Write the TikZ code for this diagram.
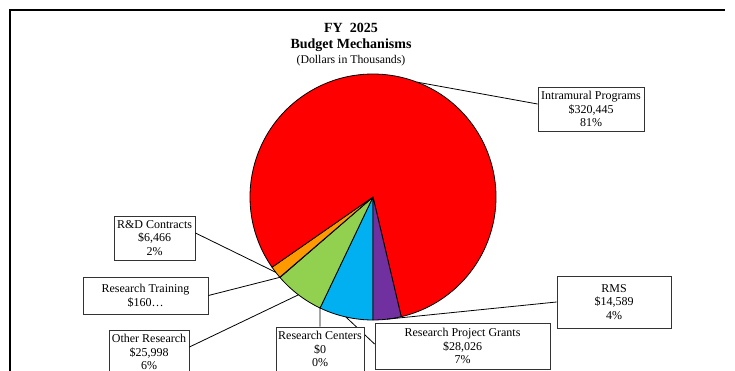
\documentclass[tikz,border=0pt]{standalone}
\usepackage{fontspec}
\setmainfont{Liberation Serif}
\definecolor{cIntra}{RGB}{255,0,0}
\definecolor{cRMS}{RGB}{112,48,160}
\definecolor{cRPG}{RGB}{0,176,240}
\definecolor{cRC}{RGB}{255,255,0}
\definecolor{cOther}{RGB}{146,208,80}
\definecolor{cRT}{RGB}{255,192,0}
\definecolor{cRD}{RGB}{255,153,0}
\tikzset{
  slice/.style={draw=black, line width=0.8pt, line join=round},
  leader/.style={draw=black, line width=0.8pt},
  lbl/.style={draw=black!80, line width=0.9pt, fill=white, align=center, inner sep=0pt,
    font=\fontsize{12}{13.8}\selectfont},
  frameline/.style={draw=black, line width=1.3pt},
}
\begin{document}
\begin{tikzpicture}[x=1pt,y=1pt]
\useasboundingbox (0,0) rectangle (735,371);
\clip (0,0) rectangle (735,371);
% frame
\draw[frameline] (10,-5) -- (10,361) -- (725,361);
% title
\node[anchor=base, font=\fontsize{14}{16}\selectfont\bfseries] (t1) at (351,338) {FY\ \ 2025};
\node[anchor=base, font=\fontsize{14}{16}\selectfont\bfseries] (t2) at (351,322) {Budget Mechanisms};
\node[anchor=base, font=\fontsize{11.8}{13.6}\selectfont] (t3) at (351,307.5) {(Dollars in Thousands)};
% pie
\coordinate (C) at (373,174);
\def\R{123}
\filldraw[slice, fill=cRPG] (C) -- ([shift={(-90:\R)}]C) arc[start angle=-90, end angle=-115.498, radius=\R] -- cycle;
\filldraw[slice, fill=cOther] (C) -- ([shift={(-115.498:\R)}]C) arc[start angle=-115.498, end angle=-139.151, radius=\R] -- cycle;
\filldraw[slice, fill=cRT] (C) -- ([shift={(-139.151:\R)}]C) arc[start angle=-139.151, end angle=-139.297, radius=\R] -- cycle;
\filldraw[slice, fill=cRD] (C) -- ([shift={(-139.297:\R)}]C) arc[start angle=-139.297, end angle=-145.180, radius=\R] -- cycle;
\filldraw[slice, fill=cIntra] (C) -- ([shift={(-145.180:\R)}]C) arc[start angle=-145.180, end angle=-436.725, radius=\R] -- cycle;
\filldraw[slice, fill=cRMS] (C) -- ([shift={(-436.725:\R)}]C) arc[start angle=-436.725, end angle=-450, radius=\R] -- cycle;
% leader start points on the pie
\coordinate (pIntra) at ([shift={(69.05:\R)}]C);
\coordinate (pRMS) at ([shift={(-83.36:\R)}]C);
\coordinate (pRPG) at ([shift={(-102.75:\R)}]C);
\coordinate (pRC) at ([shift={(-115.5:\R)}]C);
\coordinate (pOther) at ([shift={(-127.32:\R)}]C);
\coordinate (pRT) at ([shift={(-139.22:\R)}]C);
\coordinate (pRD) at ([shift={(-142.24:\R)}]C);
% label boxes (positions)
\path
  (591,262) coordinate (cIntraBox)
  (614,69) coordinate (cRMSBox)
  (462.5,25) coordinate (cRPGBox)
  (320,22) coordinate (cRCBox)
  (149,19) coordinate (cOtherBox)
  (145.5,75.5) coordinate (cRTBox)
  (154.5,133) coordinate (cRDBox);
\path
  node[lbl, minimum width=106pt, minimum height=44pt] (intra) at (cIntraBox) {Intramural Programs\\\$320,445\\81\%}
  node[lbl, minimum width=114pt, minimum height=52pt] (rms) at (cRMSBox) {RMS\\\$14,589\\4\%}
  node[lbl, minimum width=175pt, minimum height=46pt] (rpg) at (cRPGBox) {Research Project Grants\\\$28,026\\7\%}
  node[lbl, minimum width=80pt, minimum height=44pt] (other) at (cOtherBox) {Other Research\\\$25,998\\6\%}
  node[lbl, minimum width=125pt, minimum height=37pt] (rt) at (cRTBox) {Research Training\\\$160\ldots}
  node[lbl, minimum width=81pt, minimum height=44pt] (rd) at (cRDBox) {R\&D Contracts\\\$6,466\\2\%};
% leaders
\draw[leader] (pIntra) -- ([yshift=5pt]intra.west);
\draw[leader] (pRMS) -- (rms.west);
\draw[leader] (pRPG) -- ([yshift=2pt]rpg.west);
\draw[leader] (pOther) -- ([yshift=5pt]other.east);
\draw[leader] (pRT) -- (rt.east);
\draw[leader] (pRD) -- ([yshift=5pt]rd.east);
% research centers box drawn over the RPG leader
\node[lbl, minimum width=88pt, minimum height=44pt] (rc) at (cRCBox) {Research Centers\\\$0\\0\%};
\draw[leader] (pRC) -- (rc.north);
\end{tikzpicture}
\end{document}
